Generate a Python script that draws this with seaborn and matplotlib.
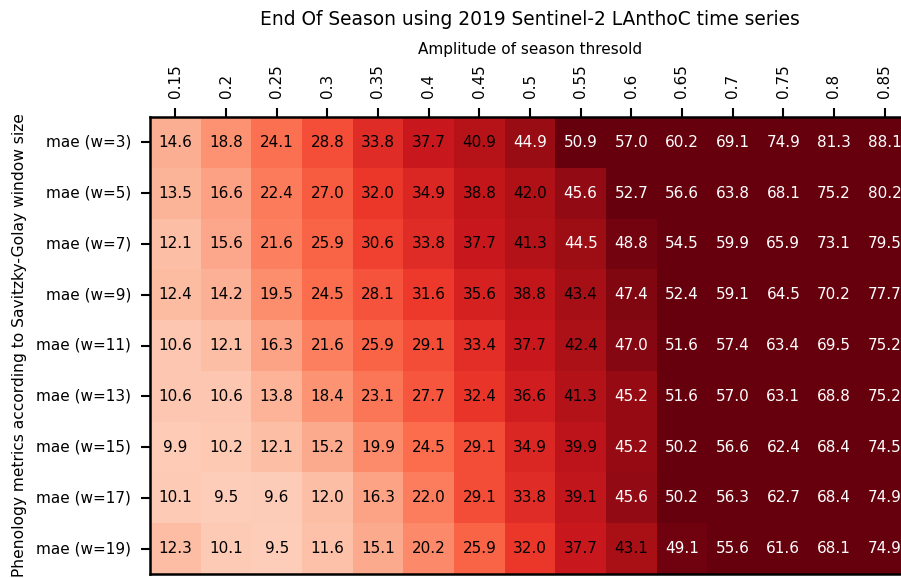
import numpy as np
import pandas as pd
import seaborn as sns
import matplotlib
matplotlib.use("Agg")
import matplotlib.pyplot as plt

thresholds = ["0.15", "0.2", "0.25", "0.3", "0.35", "0.4", "0.45", "0.5",
              "0.55", "0.6", "0.65", "0.7", "0.75", "0.8", "0.85"]
row_labels = ["mae (w=3)", "mae (w=5)", "mae (w=7)", "mae (w=9)", "mae (w=11)",
              "mae (w=13)", "mae (w=15)", "mae (w=17)", "mae (w=19)"]

w3 = [14.6, 18.8, 24.1, 28.8, 33.8, 37.7, 40.9, 44.9, 50.9, 57.0, 60.2, 69.1, 74.9, 81.3, 88.1]
w5 = [13.5, 16.6, 22.4, 27.0, 32.0, 34.9, 38.8, 42.0, 45.6, 52.7, 56.6, 63.8, 68.1, 75.2, 80.2]
w7 = [12.1, 15.6, 21.6, 25.9, 30.6, 33.8, 37.7, 41.3, 44.5, 48.8, 54.5, 59.9, 65.9, 73.1, 79.5]
w9 = [12.4, 14.2, 19.5, 24.5, 28.1, 31.6, 35.6, 38.8, 43.4, 47.4, 52.4, 59.1, 64.5, 70.2, 77.7]
w11 = [10.6, 12.1, 16.3, 21.6, 25.9, 29.1, 33.4, 37.7, 42.4, 47.0, 51.6, 57.4, 63.4, 69.5, 75.2]
w13 = [10.6, 10.6, 13.8, 18.4, 23.1, 27.7, 32.4, 36.6, 41.3, 45.2, 51.6, 57.0, 63.1, 68.8, 75.2]
w15 = [9.9, 10.2, 12.1, 15.2, 19.9, 24.5, 29.1, 34.9, 39.9, 45.2, 50.2, 56.6, 62.4, 68.4, 74.5]
w17 = [10.1, 9.5, 9.6, 12.0, 16.3, 22.0, 29.1, 33.8, 39.1, 45.6, 50.2, 56.3, 62.7, 68.4, 74.9]
w19 = [12.3, 10.1, 9.5, 11.6, 15.1, 20.2, 25.9, 32.0, 37.7, 43.1, 49.1, 55.6, 61.6, 68.1, 74.9]

df = pd.DataFrame([w3, w5, w7, w9, w11, w13, w15, w17, w19],
                  index=row_labels, columns=thresholds)

plt.rcParams["font.family"] = ["DejaVu Sans"]
fig = plt.figure(figsize=(9.01, 5.78), dpi=100)
W, H = 901, 578
left, right, top, bottom = 150, 910, 117, 574
ax = fig.add_axes([left / W, 1 - bottom / H, (right - left) / W, (bottom - top) / H])

sns.heatmap(df, ax=ax, cmap="Reds", vmin=0, vmax=50, annot=True, fmt=".1f",
            cbar=False, annot_kws={"fontsize": 11})

# text colour: white above half of the maximum value
threshold = df.values.max() / 2.0
for t in ax.texts:
    v = float(t.get_text())
    t.set_color("white" if v > threshold else "black")

for s in ax.spines.values():
    s.set_visible(True)
    s.set_linewidth(1.8)
    s.set_color("black")

ax.xaxis.tick_top()
ax.xaxis.set_label_position("top")
ax.tick_params(axis="x", rotation=90, labelsize=11, length=6.5, width=1.5, pad=7)
ax.tick_params(axis="y", rotation=0, labelsize=11, length=6.5, width=1.5, pad=7)
ax.set_xlabel("Amplitude of season thresold", fontsize=11, labelpad=7.5)
ax.set_ylabel("Phenology metrics according to Savitzky-Golay window size",
              fontsize=11.2, labelpad=7)
ax.set_title("End Of Season using 2019 Sentinel-2 LAnthoC time series",
             fontsize=13.4, pad=12)

fig.savefig("out.png", dpi=100)
